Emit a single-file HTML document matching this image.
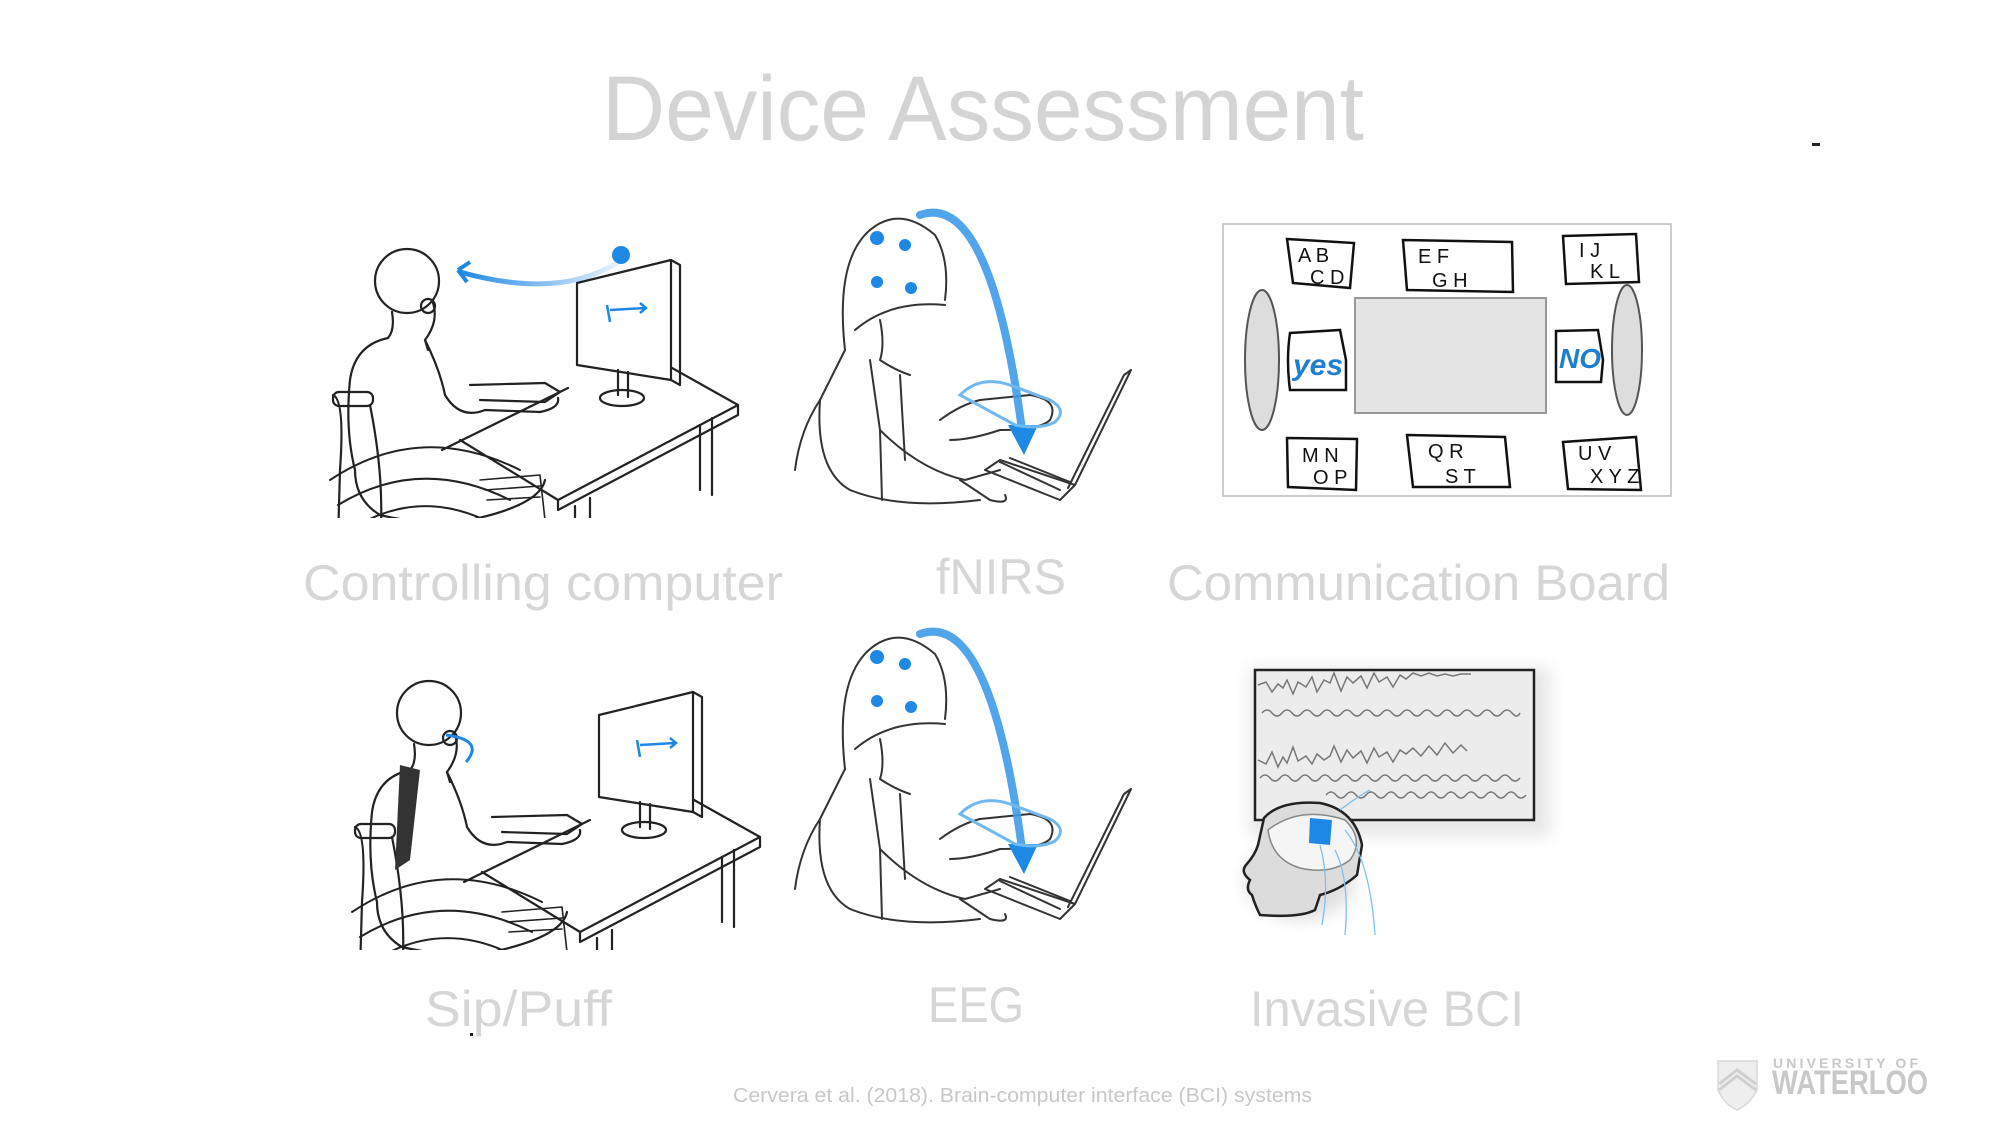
<!DOCTYPE html>
<html><head><meta charset="utf-8"><style>
html,body{margin:0;padding:0;background:#fff;}
svg{display:block;}
text{font-family:"Liberation Sans",sans-serif;}
</style></head><body>
<svg width="2002" height="1128" viewBox="0 0 2002 1128" xmlns="http://www.w3.org/2000/svg">
<defs>
<filter id="blur" x="-20%" y="-20%" width="140%" height="140%"><feGaussianBlur stdDeviation="8"/></filter>
<clipPath id="clip1"><rect x="320" y="220" width="430" height="298"/></clipPath>
<linearGradient id="arcg" x1="0" y1="0" x2="1" y2="0">
<stop offset="0" stop-color="#1e88e5"/><stop offset="1" stop-color="#1e88e5" stop-opacity="0.1"/></linearGradient>
<g id="desk" fill="none" stroke="#222" stroke-width="2.2" stroke-linejoin="round" stroke-linecap="round">
<!-- wheelchair -->
<path d="M330 480 Q420 420 520 470" stroke-width="2"/>
<path d="M338 505 Q420 455 510 500" stroke-width="2"/>
<path d="M350 530 Q420 485 495 525" stroke-width="2"/>
<path d="M333 395 Q345 400 340 470 L338 540"/>
<rect x="333" y="392" width="40" height="14" rx="6"/>
<path d="M370 405 Q385 480 380 540"/>
<path d="M480 480 L540 475 L545 520 M485 490 L540 486 M487 500 L540 497" stroke-width="1.6"/>
<!-- body -->
<circle cx="407" cy="281" r="32"/>
<path d="M432 300 Q440 320 425 340 L428 350"/>
<circle cx="428" cy="306" r="7"/>
<path d="M392 312 Q395 330 388 338 Q355 345 350 380 Q345 430 355 470 Q355 500 380 515 Q420 525 470 520 Q540 505 545 480"/>
<path d="M425 340 Q440 370 445 395 Q460 420 485 410 L540 412 Q560 408 558 398"/>
<path d="M470 385 L545 383 L560 392 L545 402 L480 400"/>
<!-- desk -->
<path d="M442 450 L568 388"/>
<path d="M640 350 L738 405 L558 500 L460 440"/>
<path d="M738 405 L738 415 L558 510 L558 500"/>
<path d="M575 506 L575 518 M590 498 L590 518 M700 425 L700 490 M712 418 L712 495"/>
<!-- monitor -->
<path d="M577 283 L671 260 L671 380 L577 365 Z" fill="#fff"/>
<path d="M671 260 L680 265 L680 385 L671 380"/>
<path d="M618 370 L618 395 M628 372 L628 397"/>
<ellipse cx="622" cy="398" rx="22" ry="8"/>
</g>
<g id="cap" fill="none" stroke="#333" stroke-width="2" stroke-linejoin="round" stroke-linecap="round">
<path d="M845 350 Q835 260 870 230 Q900 205 935 235 Q950 260 945 300"/>
<path d="M855 330 Q890 300 945 305"/>
<path d="M880 320 Q885 345 880 360 Q895 370 910 375"/>
<path d="M845 350 Q830 380 820 400 Q800 430 795 470"/>
<path d="M870 360 L880 430 L882 500 M900 375 L905 460"/>
<path d="M820 400 Q815 470 850 490 Q900 510 980 500"/>
<path d="M880 430 Q920 470 965 480 L1000 470"/>
<path d="M940 420 Q960 405 980 400 L1030 395 Q1060 400 1050 420 Q1040 430 1000 430 Q970 440 950 440"/>
<path d="M960 480 Q975 490 990 500 Q1010 505 1005 495"/>
<path d="M1131 370 L1075 485 L1060 500 L985 470 L1000 460 L1075 485"/>
<path d="M1131 370 L1124 375 L1068 488"/>
<path d="M1000 462 L1060 490 M1010 458 L1070 482"/>
</g>
</defs>

<!-- title -->
<text x="983" y="140" font-size="92" fill="#d4d4d4" text-anchor="middle" textLength="762" lengthAdjust="spacingAndGlyphs">Device Assessment</text>
<rect x="1812" y="143" width="8" height="3" fill="#222"/>

<!-- panel 1: controlling computer -->
<g clip-path="url(#clip1)"><use href="#desk"/></g>
<circle cx="621" cy="255" r="9" fill="#1e88e5"/>
<path d="M618 262 Q560 300 460 272" fill="none" stroke="url(#arcg)" stroke-width="5"/>
<path d="M458 270 L470 262 M458 270 L467 282" stroke="#1e88e5" stroke-width="4" fill="none"/>
<path d="M610 310 L645 308 M640 303 L646 308 L640 313 M607 305 L610 322" stroke="#1e88e5" stroke-width="2.5" fill="none"/>

<!-- panel 2: fNIRS -->
<use href="#cap"/>
<circle cx="877" cy="238" r="7" fill="#1e88e5"/><circle cx="905" cy="245" r="6" fill="#1e88e5"/>
<circle cx="877" cy="282" r="6" fill="#1e88e5"/><circle cx="911" cy="288" r="6" fill="#1e88e5"/>
<path d="M920 215 Q990 190 1022 430" fill="none" stroke="#3d9be9" stroke-width="8" stroke-linecap="round" opacity="0.9"/>
<path d="M1008 425 L1024 455 L1038 425 Z" fill="#1e88e5"/>
<path d="M960 395 Q980 375 1010 385 L1050 400 Q1068 410 1055 422 Q1040 430 1015 425 Z" fill="none" stroke="#6fb8f0" stroke-width="3"/>

<!-- panel 3: communication board -->
<g>
<rect x="1223" y="224" width="448" height="272" fill="#fff" stroke="#bbb" stroke-width="1.5"/>
<rect x="1355" y="298" width="191" height="115" fill="#e4e4e4" stroke="#999" stroke-width="2"/>
<ellipse cx="1262" cy="360" rx="17" ry="70" fill="#ddd" stroke="#555" stroke-width="2"/>
<ellipse cx="1627" cy="350" rx="15" ry="65" fill="#ddd" stroke="#555" stroke-width="2"/>
<g fill="#fff" stroke="#111" stroke-width="2.5">
<path d="M1287 239 L1354 243 L1350 288 L1293 283 Z"/>
<path d="M1403 240 L1512 242 L1513 292 L1407 290 Z"/>
<path d="M1563 236 L1636 234 L1639 282 L1566 284 Z"/>
<path d="M1290 333 L1340 330 L1346 360 L1346 390 L1290 390 Q1286 360 1290 333 Z"/>
<path d="M1556 331 L1598 330 L1603 360 L1601 382 L1556 382 Z"/>
<path d="M1287 438 L1357 439 L1356 490 L1288 487 Z"/>
<path d="M1407 435 L1505 437 L1510 487 L1413 487 Z"/>
<path d="M1563 442 L1636 437 L1641 490 L1568 489 Z"/>
</g>
<g fill="#111" font-size="20">
<text x="1298" y="262">A B</text><text x="1310" y="284">C D</text>
<text x="1418" y="263">E F</text><text x="1432" y="287">G H</text>
<text x="1579" y="257">I J</text><text x="1590" y="278">K L</text>
<text x="1302" y="462">M N</text><text x="1313" y="484">O P</text>
<text x="1428" y="458">Q R</text><text x="1445" y="483">S T</text>
<text x="1578" y="460">U V</text><text x="1590" y="483">X Y Z</text>
</g>
<text x="1293" y="375" font-size="30" fill="#1e7fd0" font-style="italic" font-weight="bold">yes</text>
<text x="1559" y="368" font-size="28" fill="#1e7fd0" font-style="italic" font-weight="bold">NO</text>
</g>

<!-- labels row 1 -->
<g fill="#d6d6d6" font-size="50">
<text x="303" y="600" textLength="480" lengthAdjust="spacingAndGlyphs">Controlling computer</text>
<text x="936" y="594" textLength="130" lengthAdjust="spacingAndGlyphs">fNIRS</text>
<text x="1167" y="600" textLength="503" lengthAdjust="spacingAndGlyphs">Communication Board</text>
</g>

<!-- panel 4: sip/puff -->
<g transform="translate(22,432)"><g clip-path="url(#clip1)"><use href="#desk"/></g></g>
<path d="M446 735 Q485 740 466 762" fill="none" stroke="#1e88e5" stroke-width="3"/>
<path d="M400 765 L420 770 L410 860 L395 870 Z" fill="#333"/>
<path d="M640 745 L675 743 M670 738 L676 743 L670 748 M637 740 L640 757" stroke="#1e88e5" stroke-width="2.5" fill="none"/>

<!-- panel 5: EEG -->
<use href="#cap" transform="translate(0,419)"/>
<circle cx="877" cy="657" r="7" fill="#1e88e5"/><circle cx="905" cy="664" r="6" fill="#1e88e5"/>
<circle cx="877" cy="701" r="6" fill="#1e88e5"/><circle cx="911" cy="707" r="6" fill="#1e88e5"/>
<path d="M920 634 Q990 609 1022 849" fill="none" stroke="#3d9be9" stroke-width="8" stroke-linecap="round" opacity="0.9"/>
<path d="M1008 844 L1024 874 L1038 844 Z" fill="#1e88e5"/>
<path d="M960 814 Q980 794 1010 804 L1050 819 Q1068 829 1055 841 Q1040 849 1015 844 Z" fill="none" stroke="#6fb8f0" stroke-width="3"/>

<!-- panel 6: invasive BCI -->
<g>
<rect x="1250" y="668" width="300" height="168" fill="#e6e6e6" filter="url(#blur)"/>
<ellipse cx="1300" cy="880" rx="55" ry="40" fill="#e0e0e0" filter="url(#blur)"/>
<rect x="1255" y="670" width="279" height="150" fill="#ececec" stroke="#222" stroke-width="2.5"/>
<g fill="none" stroke="#777" stroke-width="1.5">
<path d="M1258 685 l8 -3 l6 10 l6 -8 l5 4 l4 -8 l6 14 l5 -12 l8 5 l6 -10 l5 15 l7 -12 l6 3 l4 -10 l7 18 l6 -14 l6 6 l8 -7 l6 12 l7 -15 l5 9 l8 -5 l6 10 l7 -12 l6 4 l7 -6 l8 3 l8 -3 l8 3 l8 -2 l8 2 l8 -2 l10 0"/>
<path d="M1262 713 q5 -6 10 0 t10 0 t10 0 t10 0 t10 0 t10 0 t10 0 t10 0 t10 0 t10 0 t10 0 t10 0 t10 0 t10 0 t10 0 t10 0 t10 0 t10 0 t10 0 t10 0 t10 0 t10 0 t10 0 t10 0 t10 0 t8 0"/>
<path d="M1258 760 l8 4 l6 -12 l6 15 l5 -10 l4 6 l6 -16 l5 14 l8 -5 l6 8 l5 -10 l7 6 l6 -4 l4 -10 l7 16 l6 -12 l6 8 l8 -7 l6 12 l7 -15 l5 9 l8 -5 l6 10 l7 -12 l6 4 l7 -6 l8 8 l8 -10 l8 9 l8 -12 l8 10 l8 -8 l6 6"/>
<path d="M1260 778 q5 -6 10 0 t10 0 t10 0 t10 0 t10 0 t10 0 t10 0 t10 0 t10 0 t10 0 t10 0 t10 0 t10 0 t10 0 t10 0 t10 0 t10 0 t10 0 t10 0 t10 0 t10 0 t10 0 t10 0 t10 0 t10 0 t10 0"/>
<path d="M1326 795 q5 -6 10 0 t10 0 t10 0 t10 0 t10 0 t10 0 t10 0 t10 0 t10 0 t10 0 t10 0 t10 0 t10 0 t10 0 t10 0 t10 0 t10 0 t10 0 t10 0 t10 0"/>
</g>
<path d="M1264 818 Q1280 800 1320 803 Q1355 810 1362 845 L1357 875 Q1340 890 1320 895 L1315 910 Q1300 918 1260 915 Q1255 905 1252 895 Q1245 890 1250 880 Q1240 872 1246 865 Q1255 855 1258 845 Z" fill="#dcdcdc" stroke="#222" stroke-width="2.5"/>
<path d="M1268 830 Q1300 805 1345 820 Q1365 840 1350 860 Q1330 875 1300 868 Q1272 860 1268 830 Z" fill="#f5f5f5" stroke="#888" stroke-width="1.5"/>
<path d="M1310 818 L1332 820 L1330 845 L1309 843 Z" fill="#1e88e5"/>
<path d="M1320 845 Q1330 880 1322 925 M1335 850 Q1350 880 1345 935 M1345 830 Q1370 860 1375 935 M1340 810 Q1360 795 1370 790" fill="none" stroke="#7ec0ee" stroke-width="1.3"/>
</g>

<!-- labels row 2 -->
<g fill="#d6d6d6" font-size="50">
<text x="425" y="1026" textLength="187" lengthAdjust="spacingAndGlyphs">Sip/Puff</text>
<text x="928" y="1022" textLength="96" lengthAdjust="spacingAndGlyphs">EEG</text>
<text x="1250" y="1026" textLength="274" lengthAdjust="spacingAndGlyphs">Invasive BCI</text>
</g>
<rect x="470" y="1033" width="3" height="3" fill="#222"/>

<!-- citation -->
<text x="733" y="1102" font-size="20" fill="#c8c8c8" textLength="579" lengthAdjust="spacingAndGlyphs">Cervera et al. (2018). Brain-computer interface (BCI) systems</text>

<!-- logo -->
<path d="M1718 1061 L1757 1061 L1757 1090 Q1750 1104 1737 1110 Q1724 1104 1718 1090 Z" fill="#eee" stroke="#d8d8d8" stroke-width="1.5"/>
<path d="M1719 1090 L1737 1076 L1756 1090 M1719 1084 L1737 1070 L1756 1084" fill="none" stroke="#d0d0d0" stroke-width="3"/>
<text x="1773" y="1068" font-size="14" fill="#c8c8c8" textLength="145" lengthAdjust="spacing" font-weight="bold">UNIVERSITY OF</text>
<text x="1772" y="1094" font-size="34" fill="#c8c8c8" font-weight="bold" textLength="156" lengthAdjust="spacingAndGlyphs">WATERLOO</text>
</svg>
</body></html>
